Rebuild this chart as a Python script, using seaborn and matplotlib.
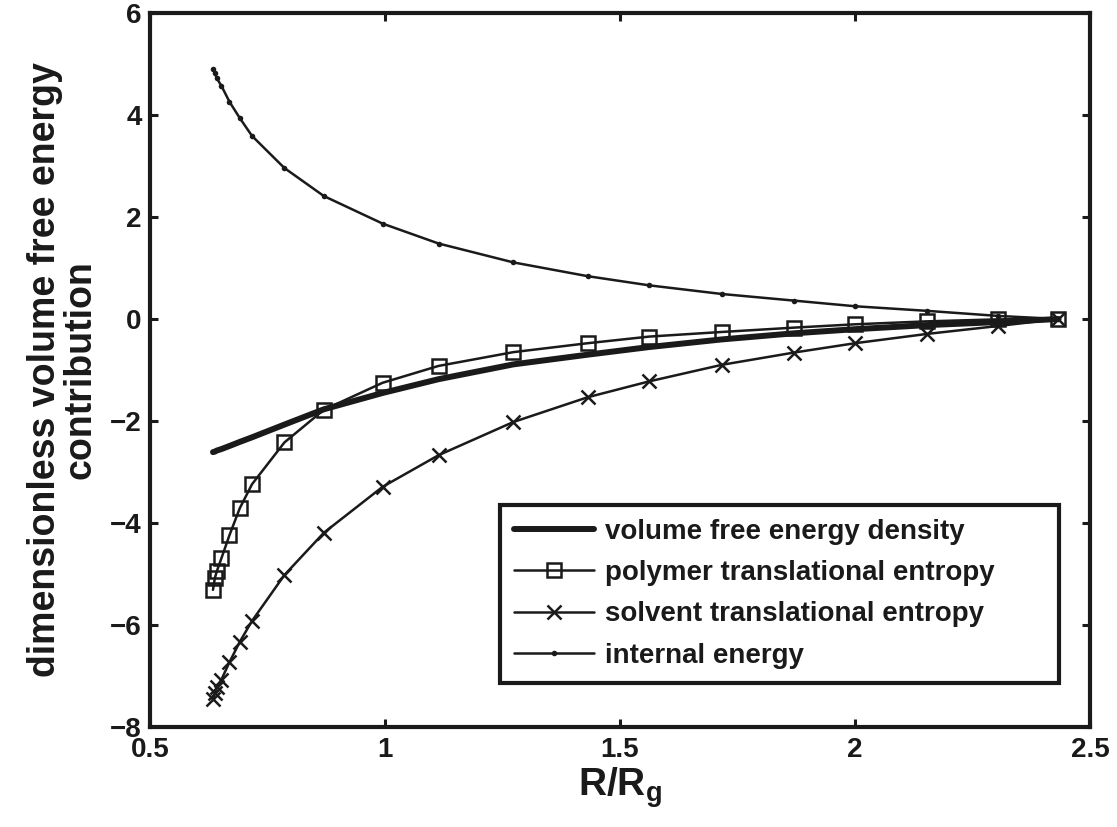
import numpy as np
import pandas as pd
import matplotlib
matplotlib.use('Agg')
import matplotlib.pyplot as plt
import seaborn as sns

# values
r_over_rg = [0.634, 0.638, 0.642, 0.652, 0.669, 0.691, 0.717, 0.786, 0.870, 0.995,
             1.114, 1.273, 1.431, 1.562, 1.717, 1.871, 2.000, 2.153, 2.305, 2.433]
volume_fe = [-2.61, -2.60, -2.58, -2.55, -2.49, -2.41, -2.32, -2.07, -1.77, -1.45,
             -1.18, -0.89, -0.70, -0.55, -0.40, -0.28, -0.20, -0.12, -0.06, 0.0]
polymer_ent = [-5.31, -5.08, -4.95, -4.69, -4.24, -3.71, -3.24, -2.42, -1.78, -1.25,
               -0.92, -0.65, -0.475, -0.345, -0.254, -0.169, -0.104, -0.046, -0.007, 0.0]
solvent_ent = [-7.46, -7.33, -7.22, -7.07, -6.73, -6.33, -5.92, -5.02, -4.19, -3.29,
               -2.67, -2.02, -1.535, -1.223, -0.898, -0.657, -0.475, -0.293, -0.137, 0.0]
internal_en = [4.90, 4.82, 4.72, 4.57, 4.26, 3.94, 3.59, 2.96, 2.41, 1.87,
               1.48, 1.11, 0.84, 0.66, 0.49, 0.36, 0.25, 0.16, 0.06, 0.0]

labels = ['volume free energy density', 'polymer translational entropy',
          'solvent translational entropy', 'internal energy']
xticks = [0.5, 1, 1.5, 2, 2.5]
yticks = [-8, -6, -4, -2, 0, 2, 4, 6]

sns.set_theme(style='white')
plt.rcParams['font.family'] = ['Liberation Sans', 'DejaVu Sans']
plt.rcParams['font.weight'] = 'bold'
plt.rcParams['mathtext.fontset'] = 'custom'
plt.rcParams['mathtext.rm'] = 'Liberation Sans:bold'
plt.rcParams['mathtext.bf'] = 'Liberation Sans:bold'
plt.rcParams['mathtext.it'] = 'Liberation Sans:bold'

fig = plt.figure(figsize=(11.17, 8.27), dpi=100)
ax = fig.add_axes([0.1343, 0.1209, 0.8415, 0.8634])

sns.lineplot(x=r_over_rg, y=volume_fe, ax=ax, color='k', lw=4.3,
             sort=False, estimator=None, label=labels[0])
sns.lineplot(x=r_over_rg, y=polymer_ent, ax=ax, color='k', lw=1.8,
             marker='s', ms=10, mfc='none', mec='k', mew=1.8,
             sort=False, estimator=None, label=labels[1])
sns.lineplot(x=r_over_rg, y=solvent_ent, ax=ax, color='k', lw=1.8,
             marker='x', ms=10, mec='k', mew=1.8,
             sort=False, estimator=None, label=labels[2])
sns.lineplot(x=r_over_rg, y=internal_en, ax=ax, color='k', lw=1.8,
             marker='o', ms=4, mfc='k', mec='k', mew=0,
             sort=False, estimator=None, label=labels[3])

ax.set_xlim(0.5, 2.5)
ax.set_ylim(-8, 6)
ax.set_xticks(xticks)
ax.set_xticklabels(['0.5', '1', '1.5', '2', '2.5'])
ax.set_yticks(yticks)
ax.set_yticklabels([str(t).replace('-', '\u2212') for t in yticks])

for s in ax.spines.values():
    s.set_visible(True)
    s.set_color('k')
    s.set_linewidth(3)

ax.tick_params(direction='in', length=6, width=2.2, color='k',
               top=True, right=True, bottom=True, left=True,
               labelsize=20, labelcolor='k')
ax.tick_params(axis='x', pad=7)
ax.tick_params(axis='y', pad=6)
for l in ax.get_xticklabels() + ax.get_yticklabels():
    l.set_fontweight('bold')

ax.set_xlabel(r'R/R$_\mathregular{g}$', fontsize=28, fontweight='bold',
              color='k', labelpad=2)
ax.set_ylabel('dimensionless volume free energy\ncontribution', fontsize=27,
              fontweight='bold', color='k', labelpad=8, linespacing=1.0)

leg = ax.legend(loc='upper left', bbox_to_anchor=(0.372, 0.311, 0.595, 0.0),
                mode='expand', fontsize=20, frameon=True, fancybox=False,
                handlelength=2.9, handletextpad=0.4, labelspacing=0.55,
                borderpad=0.5, borderaxespad=0.0)
frame = leg.get_frame()
frame.set_edgecolor('k')
frame.set_linewidth(3)
frame.set_facecolor('white')
frame.set_alpha(1)
for t in leg.get_texts():
    t.set_fontweight('bold')
    t.set_color('k')

fig.savefig('out.png', dpi=100)
